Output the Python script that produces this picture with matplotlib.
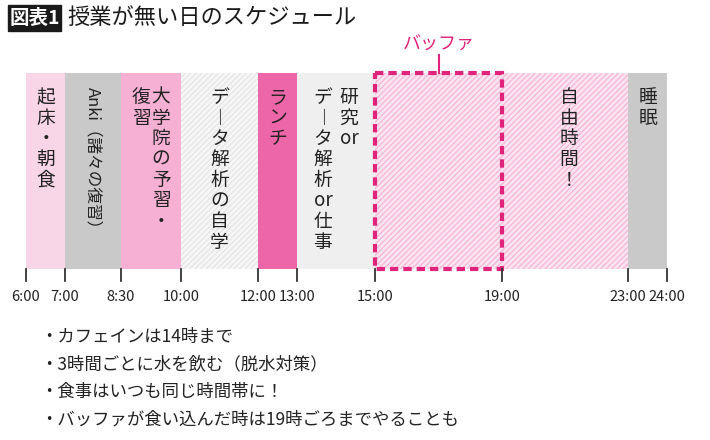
import matplotlib
matplotlib.use('Agg')
import matplotlib.pyplot as plt
import numpy as np

plt.rcParams['font.family'] = ['Noto Sans CJK JP', 'DejaVu Sans']
plt.rcParams['hatch.linewidth'] = 2.0

# schedule data
tick_hours = [6, 7, 8.5, 10, 12, 13, 15, 19, 23, 24]
tick_labels = ['6:00', '7:00', '8:30', '10:00', '12:00', '13:00', '15:00', '19:00', '23:00', '24:00']
# the axis is not linear in the original; pixel positions of the ticks (layout)
tick_px = [26, 65, 121, 181, 258, 297, 375, 502, 628, 667]

blocks_start = [6, 7, 8.5, 10, 12, 13, 15, 23]
blocks_end = [7, 8.5, 10, 12, 13, 15, 23, 24]
blocks_color = ['#f9d5e8', '#c9c9c9', '#f6b0d3', '#e4e4e4', '#ee66aa', '#efefef', '#f7b3d5', '#c9c9c9']
blocks_hatch = [None, None, None, '//////', None, None, '//////', None]
blocks_text = [
    ['起\n床\n・\n朝\n食'],
    ['ROT'],
    ['復\n習', '大\n学\n院\nの\n予\n習\n・'],
    ['デ\n︱\nタ\n解\n析\nの\n自\n学'],
    ['ラ\nン\nチ'],
    ['デ\n︱\nタ\n解\n析\nor\n仕\n事', '研\n究\nor'],
    ['自\n由\n時\n間\n！'],
    ['睡\n眠'],
]
anki_text = 'Anki（諸々の復習）'
buffer_range = (15, 19)
notes = ['・カフェインは14時まで',
         '・3時間ごとに水を飲む（脱水対策）',
         '・食事はいつも同じ時間帯に！',
         '・バッファが食い込んだ時は19時ごろまでやることも']


def px(h):
    return np.interp(h, tick_hours, tick_px)


fig = plt.figure(figsize=(7.1, 4.4), dpi=100)
ax = fig.add_axes([0, 0, 1, 1])
ax.set_xlim(0, 710)
ax.set_ylim(440, 0)
ax.axis('off')

top, bottom = 73, 269
for s, e, c, h, txt in zip(blocks_start, blocks_end, blocks_color, blocks_hatch, blocks_text):
    x0, x1 = px(s), px(e)
    ax.bar(x0, bottom - top, width=x1 - x0, bottom=top, align='edge', color=c,
           hatch=h, edgecolor='#fbe3ef' if s == 15 else ('#f6f6f6' if h else c), linewidth=0)
    n = len(txt)
    for i, t in enumerate(txt):
        if t == 'ROT':
            ax.text((x0 + x1) / 2, top + 14, anki_text, ha='center', va='top', rotation=-90,
                    fontsize=12, color='#222222')
            continue
        if s == 15:
            cx = px(21) + 4
        else:
            cx = x0 + (x1 - x0) * (i + 1) / (n + 1) if n > 1 else (x0 + x1) / 2
        ax.text(cx, top + 14, t, ha='center', va='top', fontsize=13.5,
                linespacing=0.98, color='#222222')

# buffer box
bx0, bx1 = px(buffer_range[0]), px(buffer_range[1])
ax.add_patch(plt.Rectangle((bx0, top), bx1 - bx0, bottom - top, fill=False,
                           edgecolor='#e0237b', linewidth=3, linestyle=(0, (2, 1.2))))
bmid = (bx0 + bx1) / 2
ax.plot([bmid, bmid], [55, top], color='#e0237b', lw=1.5)
ax.text(bmid, 45, 'バッファ', ha='center', va='center', fontsize=13, color='#e0237b')

# ticks
for h, lab in zip(tick_hours, tick_labels):
    x = px(h)
    ax.plot([x, x], [269, 281], color='#333333', lw=1.3)
    ax.text(x, 297, lab, ha='center', va='center', fontsize=10.5, color='#222222')

# title
ax.add_patch(plt.Rectangle((8, 5), 53, 26, color='#1a1a1a'))
ax.text(34.5, 18, '図表1', ha='center', va='center', fontsize=14, color='white', fontweight='bold')
ax.text(67, 18, '授業が無い日のスケジュール', ha='left', va='center', fontsize=16, color='#1a1a1a')

for i, n in enumerate(notes):
    ax.text(40, 337 + i * 27.5, n, ha='left', va='center', fontsize=12.5, color='#222222')

fig.savefig('out.png', dpi=100)
